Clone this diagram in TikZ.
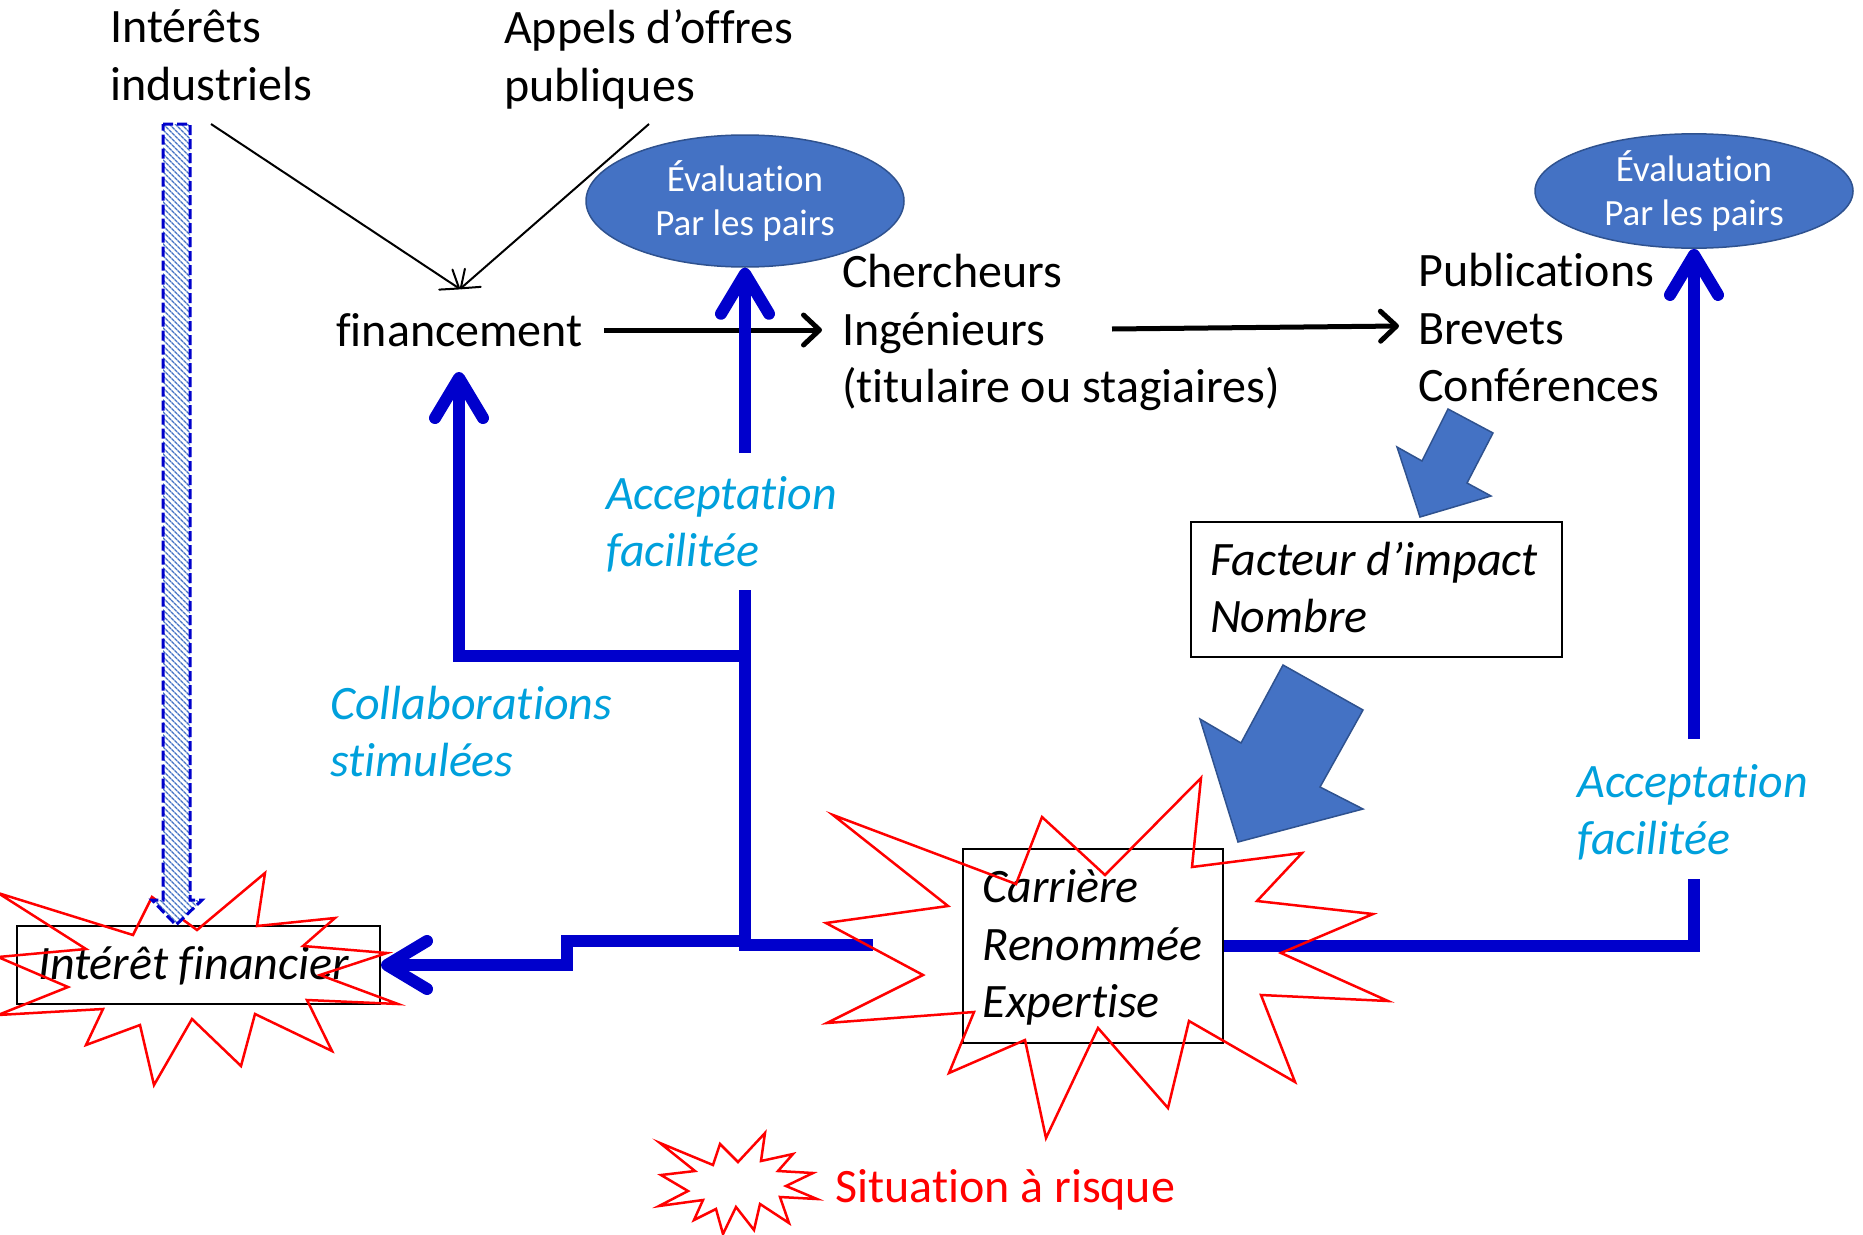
\documentclass[tikz,border=0pt]{standalone}
\usepackage{fontspec}
\setmainfont{Carlito}[Ligatures={TeX,NoCommon}]
\usetikzlibrary{arrows.meta,shapes.geometric,patterns.meta}
\definecolor{lineblue}{RGB}{0,0,204}
\definecolor{accblue}{RGB}{0,160,220}
\definecolor{fillblue}{RGB}{68,114,196}
\definecolor{edgeblue}{RGB}{47,82,143}
\definecolor{riskred}{RGB}{255,0,0}
\begin{document}
\begin{tikzpicture}[x=1pt,y=-1pt,
 txt/.style={font=\fontsize{48}{57.6}\selectfont, align=flush left, inner sep=0pt, anchor=west, execute at begin node=\strut, execute at end node=\strut},
 itxt/.style={txt, font=\fontsize{48}{57.6}\selectfont\itshape},
 acc/.style={itxt, text=accblue},
 boxed/.style={draw=black, line width=2pt, font=\fontsize{48}{57.6}\selectfont\itshape, align=flush left, anchor=north west, inner ysep=0pt, execute at begin node={\rule{0pt}{46pt}}, execute at end node=\strut},
 evnode/.style={ellipse, fill=fillblue, draw=edgeblue, line width=1.5pt, text=white, font=\fontsize{37}{44}\selectfont, align=center, inner sep=0pt},
 bluebar/.style={draw=lineblue, line width=12pt},
 bluearrow/.style={bluebar, -{Straight Barb[length=40pt,width=48pt,round]}},
 blkarrow/.style={draw=black, line width=5pt, -{Straight Barb[length=16pt,width=30pt,round]}},
 thinarrow/.style={draw=black, line width=2pt, -{Straight Barb[length=16pt,width=24pt,round]}},
 star/.style={draw=riskred, line width=2.5pt},
 blockarrow/.style={fill=fillblue, draw=edgeblue, line width=1.5pt, line join=miter},
]
\useasboundingbox (0,0) rectangle (1863,1234);

% text nodes
\node[txt] (indus) at (110,64) {Intérêts\\industriels};
\node[txt] (appels) at (504,64) {Appels d’offres\\publiques};
\node[txt] (fin) at (336,335) {financement};
\node[txt] (cherch) at (842,337) {Chercheurs\\Ingénieurs\\(titulaire ou stagiaires)};
\node[txt] (pub) at (1418,336) {Publications\\Brevets\\Conférences};
\node[acc] (acc1) at (606,530) {Acceptation\\facilitée};
\node[acc] (collab) at (330,740) {Collaborations\\stimulées};
\node[acc] (acc2) at (1577,818) {Acceptation\\facilitée};
\node[txt, text=riskred] (risk) at (835,1191) {Situation à risque};

% ellipses
\node[evnode, minimum width=318pt, minimum height=132pt] (ev1) at (745,201) {Évaluation\\Par les pairs};
\node[evnode, minimum width=318pt, minimum height=114pt] (ev2) at (1694,191) {Évaluation\\Par les pairs};

% boxes
\node[boxed, minimum width=363pt, minimum height=78pt, inner xsep=21pt, text width=321pt] (ifin) at (16,925) {Intérêt financier};
\node[boxed, minimum width=371pt, minimum height=135pt, inner xsep=19pt, text width=333pt] (fact) at (1190,521) {Facteur d’impact\\Nombre};
\node[boxed, line width=1.5pt, minimum width=260pt, minimum height=194pt, inner xsep=20pt, text width=220pt] (car) at (962,848) {Carrière\\Renommée\\Expertise};

% coordinates
\coordinate (fTop) at (460,289);
\coordinate (indusOut) at (211,124);
\coordinate (appOut) at (649,124);
\coordinate (finOut) at (604,330);
\coordinate (chIn) at (822,330);
\coordinate (chOut) at (1112,329);
\coordinate (pubIn) at (1399,326);
\coordinate (a1top) at (745,453);
\coordinate (a1bot) at (745,590);
\coordinate (jA) at (745,656);
\coordinate (jB) at (745,941);
\coordinate (jEnd) at (745,947);
\coordinate (finIn) at (459,372);
\coordinate (stepX) at (567,941);
\coordinate (jC) at (739,945);
\coordinate (carIn) at (873,945);
\coordinate (a2bot) at (1694,879);
\coordinate (a2top) at (1694,739);

% black connectors
\draw[thinarrow] (indusOut) -- (fTop);
\draw[thinarrow] (appOut) -- (fTop);
\draw[blkarrow] (finOut) -- (chIn);
\draw[blkarrow] (chOut) -- (pubIn);

% blue connectors
\draw[bluearrow] (a1top) -- (ev1.south);
\draw[bluebar] (a1bot) -- (jEnd);
\draw[bluearrow] (jA) -| (finIn);
\draw[bluearrow] (jB) -- (stepX) |- (ifin.east);
\draw[bluebar] (jC) -- (carIn);
\draw[bluebar] (car.east) -| (a2bot);
\draw[bluearrow] (a2top) -- (ev2.south);

% block arrows
\draw[blockarrow] (1420,517) -- (1397,447) -- (1422,461) -- (1448,409) -- (1493,433) -- (1467,483) -- (1491,496) -- cycle;
\draw[blockarrow] (1238,842) -- (1200,719) -- (1241,743) -- (1283,665) -- (1363,710) -- (1320,787) -- (1363,809) -- cycle;

% risk stars
\draw[star] (833,815) -- (1016,884) -- (1042,817) -- (1105,875) -- (1201,778) -- (1192,867) -- (1302,853) -- (1257,901) -- (1373,914) -- (1281,953) -- (1388,1001) -- (1261,995) -- (1295,1082) -- (1189,1021) -- (1168,1108) -- (1098,1028) -- (1046,1138) -- (1025,1040) -- (949,1073) -- (974,1012) -- (827,1023) -- (923,975) -- (826,923) -- (948,906) -- cycle;
\draw[star] (-2,893) -- (133,935) -- (152,897) -- (197,930) -- (265,873) -- (257,926) -- (335,918) -- (303,946) -- (387,953) -- (320,975) -- (398,1004) -- (307,1000) -- (332,1051) -- (255,1014) -- (241,1066) -- (192,1019) -- (154,1085) -- (140,1025) -- (86,1045) -- (103,1009) -- (-2,1015) -- (68,987) -- (-2,957) -- (86,949) -- cycle;
\draw[star] (660,1143) -- (713,1165) -- (720,1144) -- (738,1162) -- (765,1133) -- (761,1161) -- (793,1154) -- (778,1171) -- (813,1173) -- (786,1186) -- (817,1199) -- (780,1197) -- (789,1223) -- (760,1204) -- (754,1230) -- (736,1207) -- (723,1234) -- (716,1209) -- (694,1220) -- (703,1200) -- (659,1206) -- (688,1191) -- (661,1175) -- (695,1171) -- cycle;

% hatched arrow
\draw[lineblue, line width=3pt, dash pattern=on 10pt off 4pt, preaction={fill=white}, pattern={Lines[angle=-45,distance=4pt,line width=1.4pt]}, pattern color=fillblue] (163,124) -- (190,124) -- (190,900) -- (202,900) -- (176,925) -- (152,900) -- (163,900) -- cycle;
\end{tikzpicture}
\end{document}
